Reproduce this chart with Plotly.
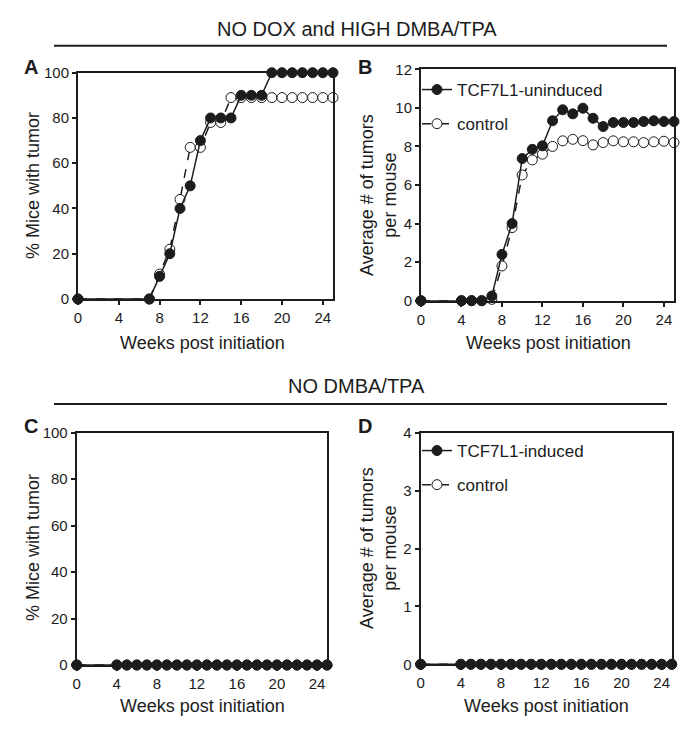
import plotly.graph_objects as go

W, H = 696, 730
OFF = 8  # the page body adds an 8px margin around the figure

# panel A: % mice with tumor (no dox, high DMBA/TPA)
weeks_a_tcf = [0, 7, 8, 9, 10, 11, 12, 13, 14, 15, 16, 17, 18, 19, 20, 21, 22, 23, 24, 25]
pct_a_tcf = [0, 0, 10, 20, 40, 50, 70, 80, 80, 80, 90, 90, 90, 100, 100, 100, 100, 100, 100, 100]
weeks_a_ctrl = [0, 7, 8, 9, 10, 11, 12, 13, 14, 15, 16, 17, 18, 19, 20, 21, 22, 23, 24, 25]
pct_a_ctrl = [0, 0, 11, 22, 44, 67, 67, 78, 78, 89, 89, 89, 89, 89, 89, 89, 89, 89, 89, 89]

# panel B: average tumors per mouse
weeks_b = [0, 4, 5, 6, 7, 8, 9, 10, 11, 12, 13, 14, 15, 16, 17, 18, 19, 20, 21, 22, 23, 24, 25]
avg_b_tcf = [0, 0, 0, 0, 0.24, 2.4, 4.0, 7.37, 7.85, 8.03, 9.33, 9.9, 9.69, 9.98, 9.46,
             9.03, 9.24, 9.24, 9.24, 9.29, 9.33, 9.29, 9.29]
avg_b_ctrl = [0, 0, 0, 0, 0.07, 1.8, 3.79, 6.52, 7.3, 7.6, 8.0, 8.29, 8.37, 8.3, 8.08,
              8.2, 8.29, 8.24, 8.24, 8.2, 8.24, 8.27, 8.2]

# panels C and D: no DMBA/TPA, everything stays at zero
weeks_cd = [0, 4, 5, 6, 7, 8, 9, 10, 11, 12, 13, 14, 15, 16, 17, 18, 19, 20, 21, 22, 23, 24, 25]
pct_c_tcf = [0] * len(weeks_cd)
pct_c_ctrl = [0] * len(weeks_cd)
avg_d_tcf = [0] * len(weeks_cd)
avg_d_ctrl = [0] * len(weeks_cd)

INK = "#1c1c1c"
FONT = "Liberation Sans, Arial, sans-serif"


def px_x(p):
    return (p - OFF) / W


def px_y(p):
    return 1 - (p - OFF) / H


fig = go.Figure()


def add_pair(xa, ya, x_ctrl, y_ctrl, x_tcf, y_tcf, tcf_name, legend, show):
    fig.add_trace(go.Scatter(
        x=x_ctrl, y=y_ctrl, xaxis=xa, yaxis=ya, mode="lines+markers",
        line=dict(color=INK, width=1.5, dash="dash"),
        marker=dict(symbol="circle", size=10, color="white", line=dict(color=INK, width=1)),
        name="control", showlegend=show, legend=legend, legendgroup=legend + "c",
        cliponaxis=False))
    fig.add_trace(go.Scatter(
        x=x_tcf, y=y_tcf, xaxis=xa, yaxis=ya, mode="lines+markers",
        line=dict(color=INK, width=1.5),
        marker=dict(symbol="circle", size=10, color=INK, line=dict(color=INK, width=1)),
        name=tcf_name, showlegend=show, legend=legend, legendgroup=legend + "t",
        cliponaxis=False, legendrank=1))


add_pair("x", "y", weeks_a_ctrl, pct_a_ctrl, weeks_a_tcf, pct_a_tcf, "TCF7L1-uninduced", "legend", False)
add_pair("x2", "y2", weeks_b, avg_b_ctrl, weeks_b, avg_b_tcf, "TCF7L1-uninduced", "legend", True)
add_pair("x3", "y3", weeks_cd, pct_c_ctrl, weeks_cd, pct_c_tcf, "TCF7L1-induced", "legend2", False)
add_pair("x4", "y4", weeks_cd, avg_d_ctrl, weeks_cd, avg_d_tcf, "TCF7L1-induced", "legend2", True)

# pixel boxes of each plot area: left, right, top, bottom
boxes = {
    "": (78, 333, 72.7, 299),
    "2": (421, 674, 69.3, 300.7),
    "3": (76.7, 327, 432.7, 665),
    "4": (420.7, 671.7, 432.7, 664.3),
}
yranges = {"": [0, 100], "2": [0, 12], "3": [0, 100], "4": [0, 4]}
ydticks = {"": 20, "2": 2, "3": 20, "4": 1}

axis_common = dict(showline=True, linecolor=INK, linewidth=2, mirror=True, ticks="outside",
                   ticklen=4, tickwidth=1.5, tickcolor=INK, showgrid=False, zeroline=False,
                   tickfont=dict(family=FONT, size=15, color=INK))
layout = {}
for k, (l, r, t, b) in boxes.items():
    layout["xaxis" + k] = dict(axis_common, domain=[px_x(l), px_x(r)], range=[0, 25],
                               tick0=0, dtick=4, anchor="y" + k)
    layout["yaxis" + k] = dict(axis_common, domain=[px_y(b), px_y(t)], range=yranges[k],
                               tick0=0, dtick=ydticks[k], anchor="x" + k)

fig.update_layout(**layout)

ann = []


def text(x, y, s, size=18, angle=0, bold=False):
    ann.append(dict(x=px_x(x), y=px_y(y), xref="paper", yref="paper", text=("<b>%s</b>" % s) if bold else s,
                    showarrow=False, textangle=angle, xanchor="center", yanchor="middle",
                    font=dict(family=FONT, size=size, color=INK)))


text(357, 29, "NO DOX and HIGH DMBA/TPA", size=20)
text(357, 386, "NO DMBA/TPA", size=20)
text(31, 67, "A", size=20, bold=True)
text(365, 67, "B", size=20, bold=True)
text(31, 426, "C", size=20, bold=True)
text(365, 426, "D", size=20, bold=True)

text(202, 343, "Weeks post initiation")
text(548, 343, "Weeks post initiation")
text(202, 706, "Weeks post initiation")
text(546, 706, "Weeks post initiation")
text(33, 186, "% Mice with tumor", angle=-90)
text(378, 195, "Average # of tumors<br>per mouse", angle=-90)
text(33, 548, "% Mice with tumor", angle=-90)
text(378, 548, "Average # of tumors<br>per mouse", angle=-90)

shapes = [
    dict(type="line", xref="paper", yref="paper", x0=px_x(54), x1=px_x(667), y0=px_y(45.7), y1=px_y(45.7),
         line=dict(color=INK, width=2)),
    dict(type="line", xref="paper", yref="paper", x0=px_x(54), x1=px_x(667), y0=px_y(404), y1=px_y(404),
         line=dict(color=INK, width=2)),
]

legend_common = dict(bgcolor="rgba(0,0,0,0)", borderwidth=0, xanchor="left", yanchor="top",
                     font=dict(family=FONT, size=17, color=INK), tracegroupgap=9,
                     itemclick=False, itemdoubleclick=False)

fig.update_layout(
    width=W, height=H, margin=dict(l=0, r=0, t=0, b=0, pad=0, autoexpand=False),
    paper_bgcolor="white", plot_bgcolor="white",
    annotations=ann, shapes=shapes,
    legend=dict(legend_common, x=px_x(417), y=px_y(72)),
    legend2=dict(legend_common, x=px_x(417), y=px_y(433)),
)

fig.write_html("out.html")
